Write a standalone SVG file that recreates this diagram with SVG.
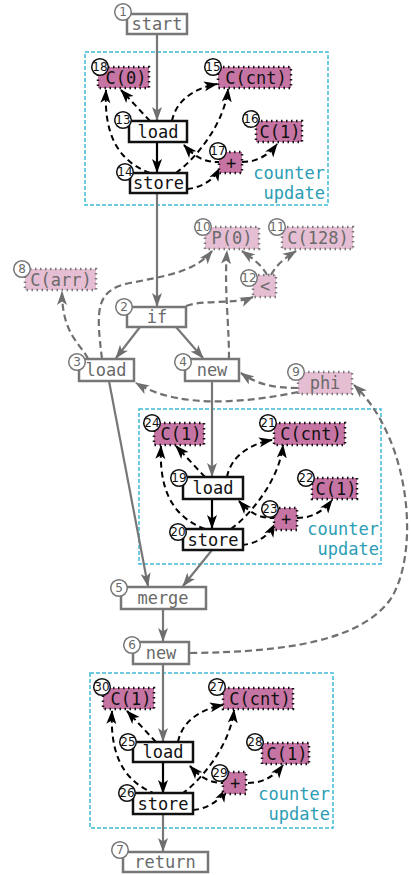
<svg xmlns="http://www.w3.org/2000/svg" width="411" height="875" viewBox="0 0 411 875">
  <defs>
    <marker id="ab" viewBox="0 0 14 11" refX="13" refY="5.5" markerWidth="14" markerHeight="11" markerUnits="userSpaceOnUse" orient="auto">
      <path d="M0,0.5 L14,5.5 L0,10.5 L3.5,5.5 z" fill="#000"/>
    </marker>
    <marker id="ag" viewBox="0 0 14 11" refX="13" refY="5.5" markerWidth="14" markerHeight="11" markerUnits="userSpaceOnUse" orient="auto">
      <path d="M0,0.5 L14,5.5 L0,10.5 L3.5,5.5 z" fill="#6e6e6e"/>
    </marker>
  </defs>
  <style>
    text { font-family: "DejaVu Sans Mono", "Liberation Mono", monospace; font-size: 17px; text-anchor: middle; dominant-baseline: central; }
    .num { font-family: "DejaVu Sans", "Liberation Sans", sans-serif; font-size: 12px; }
    .op { fill: #fff; stroke: #777; stroke-width: 2.5; }
    .op-t { fill: #6a6a6a; }
    .cg { fill: #e6bed4; stroke: #7a7a7a; stroke-width: 2.5; stroke-dasharray: 1.5 3.5; }
    .in { fill: #fff; stroke: #111; stroke-width: 2.5; }
    .in-t { fill: #111; }
    .cb { fill: #c674a4; stroke: #111; stroke-width: 2.5; stroke-dasharray: 1.5 3.5; }
    .ring-g { fill: #fff; stroke: #777; stroke-width: 1.5; }
    .ring-b { fill: #fff; stroke: #111; stroke-width: 1.5; }
    .cl { fill: none; stroke: #3dbbd3; stroke-width: 1.5; stroke-dasharray: 4 2; }
    .cl-t { fill: #2b9db5; text-anchor: end; dominant-baseline: auto; }
    .e-g { fill: none; stroke: #777; stroke-width: 2.2; marker-end: url(#ag); }
    .d-g { fill: none; stroke: #707070; stroke-width: 2.2; stroke-dasharray: 7 4; marker-end: url(#ag); }
    .e-b { fill: none; stroke: #000; stroke-width: 2.2; marker-end: url(#ab); }
    .d-b { fill: none; stroke: #000; stroke-width: 2; stroke-dasharray: 6 4; marker-end: url(#ab); }
  </style>

  <!-- counter update clusters: outlines and captions -->
  <g id="clusters">
    <g id="cluster1">
      <rect class="cl" x="85" y="52" width="243" height="153"/>
      <text class="cl-t" x="325" y="179">counter</text>
      <text class="cl-t" x="325" y="199">update</text>
    </g>
    <g id="cluster2" transform="translate(54,356)">
      <rect class="cl" x="85" y="53" width="242" height="155"/>
      <text class="cl-t" x="325" y="179">counter</text>
      <text class="cl-t" x="325" y="199">update</text>
    </g>
    <g id="cluster3" transform="translate(5,621)">
      <rect class="cl" x="85" y="52" width="243" height="155"/>
      <text class="cl-t" x="325" y="179">counter</text>
      <text class="cl-t" x="325" y="199">update</text>
    </g>
  </g>

  <!-- connectors -->
  <g id="edges">
    <!-- control flow -->
    <path class="e-g" d="M157,34 L157,120"/>
    <path class="e-g" d="M157,193 L157,306"/>
    <path class="e-g" d="M140,327 L116,358"/>
    <path class="e-g" d="M176,327 L203,358"/>
    <path class="e-g" d="M212,381 L212,476"/>
    <path class="e-g" d="M109,381 L148,586"/>
    <path class="e-g" d="M212,550 L183,586"/>
    <path class="e-g" d="M163,609 L163,641"/>
    <path class="e-g" d="M163,664 L163,741"/>
    <path class="e-g" d="M163,814 L163,851"/>
    <!-- data dependencies -->
    <path class="d-g" d="M88,359 C 82,345 62,335 62,292"/>
    <path class="d-g" d="M102,359 C 96,310 95,290 130,283 C 165,276 195,272 212,251"/>
    <path class="d-g" d="M186,306 C 205,299 235,305 253,297"/>
    <path class="d-g" d="M267,275 C 262,265 252,258 242,251"/>
    <path class="d-g" d="M271,275 C 276,265 285,258 296,251"/>
    <path class="d-g" d="M229,359 C 229,320 224,290 227,251"/>
    <path class="d-g" d="M298,388 C 275,388 258,385 241,373"/>
    <path class="d-g" d="M298,392 C 250,402 180,410 136,383"/>
    <path class="d-g" d="M190,653 C 290,652 360,640 390,600 C 420,555 412,440 354,385"/>

    <!-- counter update edges, one set per cluster -->
    <g id="edges-c1">
      <path class="e-b" d="M157,142 L157,172"/>
      <path class="d-b" d="M150,121 L121,90"/>
      <path class="d-b" d="M172,121 C 176,100 195,88 217,84"/>
      <path class="d-b" d="M150,173 C 115,160 104,130 106,90"/>
      <path class="d-b" d="M176,173 C 200,155 225,120 228,89"/>
      <path class="d-b" d="M187,189 C 200,188 213,181 220,168"/>
      <path class="d-b" d="M221,162 C 205,163 195,157 184,145"/>
      <path class="d-b" d="M242,162 C 256,162 268,156 277,144"/>
    </g>
    <g id="edges-c2" transform="translate(54,356)">
      <path class="e-b" d="M158,142 L158,172"/>
      <path class="d-b" d="M151,121 L122,90"/>
      <path class="d-b" d="M173,121 C 177,100 196,88 218,84"/>
      <path class="d-b" d="M151,173 C 116,160 105,130 107,90"/>
      <path class="d-b" d="M177,173 C 201,155 226,120 229,89"/>
      <path class="d-b" d="M188,189 C 201,188 214,181 221,168"/>
      <path class="d-b" d="M222,162 C 206,163 196,157 185,145"/>
      <path class="d-b" d="M243,162 C 257,162 269,156 278,144"/>
    </g>
    <g id="edges-c3" transform="translate(5,621)">
      <path class="e-b" d="M158,142 L158,172"/>
      <path class="d-b" d="M151,121 L122,90"/>
      <path class="d-b" d="M173,121 C 177,100 196,88 218,84"/>
      <path class="d-b" d="M151,173 C 116,160 105,130 107,90"/>
      <path class="d-b" d="M177,173 C 201,155 226,120 229,89"/>
      <path class="d-b" d="M188,189 C 201,188 214,181 221,168"/>
      <path class="d-b" d="M222,162 C 206,163 196,157 185,145"/>
      <path class="d-b" d="M243,162 C 257,162 269,156 278,144"/>
    </g>
  </g>

  <!-- top-level nodes -->
  <g id="n1"><rect class="op" x="127" y="14" width="60" height="20"/><text class="op-t" x="157" y="24">start</text><circle class="ring-g" cx="123" cy="12" r="8.3"/><text class="num op-t" x="123" y="12">1</text></g>
  <g id="n2"><rect class="op" x="127" y="307" width="59" height="20"/><text class="op-t" x="157" y="317">if</text><circle class="ring-g" cx="124" cy="307" r="8.3"/><text class="num op-t" x="124" y="307">2</text></g>
  <g id="n3"><rect class="op" x="79" y="359" width="55" height="22"/><text class="op-t" x="106" y="370">load</text><circle class="ring-g" cx="77" cy="362" r="8.3"/><text class="num op-t" x="77" y="362">3</text></g>
  <g id="n4"><rect class="op" x="185" y="359" width="54" height="22"/><text class="op-t" x="212" y="370">new</text><circle class="ring-g" cx="183" cy="362" r="8.3"/><text class="num op-t" x="183" y="362">4</text></g>
  <g id="n5"><rect class="op" x="121" y="587" width="85" height="22"/><text class="op-t" x="163" y="598">merge</text><circle class="ring-g" cx="119" cy="588" r="8.3"/><text class="num op-t" x="119" y="588">5</text></g>
  <g id="n6"><rect class="op" x="133" y="642" width="56" height="22"/><text class="op-t" x="161" y="653">new</text><circle class="ring-g" cx="132" cy="645" r="8.3"/><text class="num op-t" x="132" y="645">6</text></g>
  <g id="n7"><rect class="op" x="123" y="852" width="85" height="20"/><text class="op-t" x="165" y="862">return</text><circle class="ring-g" cx="120" cy="850" r="8.3"/><text class="num op-t" x="120" y="850">7</text></g>
  <g id="n8"><rect class="cg" x="25" y="269" width="71" height="21"/><text class="op-t" x="61" y="279.5">C(arr)</text><circle class="ring-g" cx="22" cy="269" r="8.3"/><text class="num op-t" x="22" y="269">8</text></g>
  <g id="n9"><rect class="cg" x="298" y="372" width="54" height="22"/><text class="op-t" x="325" y="383">phi</text><circle class="ring-g" cx="296" cy="372" r="8.3"/><text class="num op-t" x="296" y="372">9</text></g>
  <g id="n10"><rect class="cg" x="205" y="227" width="54" height="22"/><text class="op-t" x="232" y="238">P(0)</text><circle class="ring-g" cx="203" cy="227" r="8.3"/><text class="num op-t" x="203" y="227">10</text></g>
  <g id="n11"><rect class="cg" x="282" y="227" width="71" height="22"/><text class="op-t" x="318" y="238">C(128)</text><circle class="ring-g" cx="277" cy="227" r="8.3"/><text class="num op-t" x="277" y="227">11</text></g>
  <g id="n12"><rect class="cg" x="253" y="275" width="23" height="22"/><text class="op-t" x="265" y="286">&lt;</text><circle class="ring-g" cx="249" cy="278" r="8.3"/><text class="num op-t" x="249" y="278">12</text></g>

  <!-- counter update cluster 1 -->
  <g id="n13"><rect class="in" x="129" y="121" width="58" height="21"/><text class="in-t" x="158" y="131.5">load</text><circle class="ring-b" cx="123" cy="120" r="8.3"/><text class="num in-t" x="123" y="120">13</text></g>
  <g id="n14"><rect class="in" x="130" y="173" width="57" height="20"/><text class="in-t" x="158.5" y="183">store</text><circle class="ring-b" cx="125" cy="172" r="8.3"/><text class="num in-t" x="125" y="172">14</text></g>
  <g id="n15"><rect class="cb" x="218" y="67" width="73" height="21"/><text class="in-t" x="256" y="77.5">C(cnt)</text><circle class="ring-b" cx="213" cy="67" r="8.3"/><text class="num in-t" x="213" y="67">15</text></g>
  <g id="n16"><rect class="cb" x="256" y="121" width="46" height="21"/><text class="in-t" x="280" y="131.5">C(1)</text><circle class="ring-b" cx="251" cy="119" r="8.3"/><text class="num in-t" x="251" y="119">16</text></g>
  <g id="n17"><rect class="cb" x="219" y="152" width="23" height="21"/><text class="in-t" x="231" y="163">+</text><circle class="ring-b" cx="218" cy="151" r="8.3"/><text class="num in-t" x="218" y="151">17</text></g>
  <g id="n18"><rect class="cb" x="98" y="67" width="51" height="21"/><text class="in-t" x="126" y="77.5">C(0)</text><circle class="ring-b" cx="100" cy="67" r="8.3"/><text class="num in-t" x="100" y="67">18</text></g>

  <!-- counter update cluster 2 -->
  <g transform="translate(54,356)">
    <g id="n19"><rect class="in" x="129" y="121" width="60" height="22"/><text class="in-t" x="159" y="132">load</text><circle class="ring-b" cx="125" cy="122" r="8.3"/><text class="num in-t" x="125" y="122">19</text></g>
    <g id="n20"><rect class="in" x="129" y="173" width="60" height="21"/><text class="in-t" x="159" y="183.5">store</text><circle class="ring-b" cx="124" cy="176" r="8.3"/><text class="num in-t" x="124" y="176">20</text></g>
    <g id="n21"><rect class="cb" x="220" y="67" width="71" height="22"/><text class="in-t" x="257" y="78">C(cnt)</text><circle class="ring-b" cx="214" cy="67" r="8.3"/><text class="num in-t" x="214" y="67">21</text></g>
    <g id="n22"><rect class="cb" x="258" y="122" width="45" height="21"/><text class="in-t" x="282" y="132.5">C(1)</text><circle class="ring-b" cx="252" cy="122" r="8.3"/><text class="num in-t" x="252" y="122">22</text></g>
    <g id="n23"><rect class="cb" x="220" y="152" width="23" height="22"/><text class="in-t" x="232" y="163">+</text><circle class="ring-b" cx="216" cy="153" r="8.3"/><text class="num in-t" x="216" y="153">23</text></g>
    <g id="n24"><rect class="cb" x="100" y="67" width="50" height="22"/><text class="in-t" x="127" y="78">C(1)</text><circle class="ring-b" cx="98" cy="67" r="8.3"/><text class="num in-t" x="98" y="67">24</text></g>
  </g>

  <!-- counter update cluster 3 -->
  <g transform="translate(5,621)">
    <g id="n25"><rect class="in" x="128" y="121" width="60" height="20"/><text class="in-t" x="158" y="131">load</text><circle class="ring-b" cx="123" cy="121" r="8.3"/><text class="num in-t" x="123" y="121">25</text></g>
    <g id="n26"><rect class="in" x="128" y="172" width="60" height="21"/><text class="in-t" x="158" y="182.5">store</text><circle class="ring-b" cx="122" cy="172" r="8.3"/><text class="num in-t" x="122" y="172">26</text></g>
    <g id="n27"><rect class="cb" x="218" y="67" width="70" height="21"/><text class="in-t" x="255" y="77.5">C(cnt)</text><circle class="ring-b" cx="212" cy="66" r="8.3"/><text class="num in-t" x="212" y="66">27</text></g>
    <g id="n28"><rect class="cb" x="257" y="122" width="47" height="21"/><text class="in-t" x="282" y="132.5">C(1)</text><circle class="ring-b" cx="250" cy="121" r="8.3"/><text class="num in-t" x="250" y="121">28</text></g>
    <g id="n29"><rect class="cb" x="218" y="151" width="23" height="22"/><text class="in-t" x="230" y="162">+</text><circle class="ring-b" cx="215" cy="152" r="8.3"/><text class="num in-t" x="215" y="152">29</text></g>
    <g id="n30"><rect class="cb" x="98" y="67" width="51" height="21"/><text class="in-t" x="126" y="77.5">C(1)</text><circle class="ring-b" cx="97" cy="66" r="8.3"/><text class="num in-t" x="97" y="66">30</text></g>
  </g>
</svg>
